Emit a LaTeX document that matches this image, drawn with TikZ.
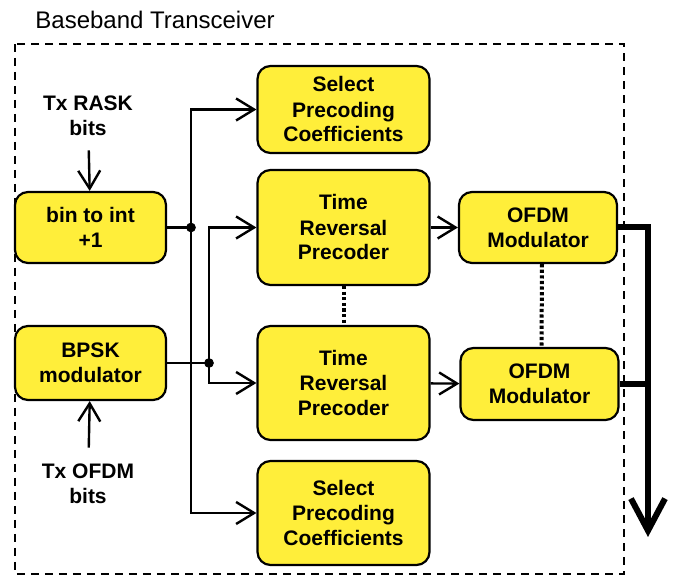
\documentclass[tikz,border=0pt]{standalone}
\usepackage{fontspec}
\setmainfont{Liberation Sans}
\usetikzlibrary{arrows.meta}
\definecolor{boxyellow}{RGB}{255,238,58}
\tikzset{
  blk/.style={draw=black, line width=1.1pt, fill=boxyellow, rounded corners=6.5pt, align=center,
    font=\fontsize{10.5}{12.5}\selectfont\bfseries, inner sep=0pt},
  lbl/.style={align=center, font=\fontsize{10.5}{12.5}\selectfont\bfseries, inner sep=1pt},
  lnk/.style={line width=1.2pt},
  arr/.style={line width=1.2pt, -{Straight Barb[length=9pt,width=11pt,line width=1.2pt]}},
  busarr/.style={line width=3pt, -{Straight Barb[length=16pt,width=17pt,line width=3pt]}},
  dots/.style={line width=2pt, dash pattern=on 1.6pt off 1.2pt},
}
\begin{document}
\begin{tikzpicture}[x=0.5pt,y=-0.5pt]
  \useasboundingbox (0,0) rectangle (676,576);
  \node[anchor=west, inner sep=0pt, font=\fontsize{12}{14}\selectfont] (title) at (35,20) {Baseband Transceiver};
  \draw[line width=1pt, dash pattern=on 4pt off 3pt] (15,44) rectangle (624,574);
  % left column
  \node[lbl] (rask) at (88,116) {Tx RASK\\bits};
  \node[blk, minimum width=75.5pt, minimum height=35.5pt] (bin) at (90.5,227.5) {bin to int\\+1};
  \node[blk, minimum width=75.5pt, minimum height=37pt] (bpsk) at (90.5,363) {BPSK\\modulator};
  \node[lbl] (ofdmbits) at (88,484) {Tx OFDM\\bits};
  % middle column
  \node[blk, minimum width=86pt, minimum height=43.5pt] (sel1) at (343.5,109.5) {Select\\Precoding\\Coefficients};
  \node[blk, minimum width=86pt, minimum height=57.5pt] (trp1) at (343.5,227.5) {Time\\Reversal\\Precoder};
  \node[blk, minimum width=86pt, minimum height=57pt] (trp2) at (343.5,383) {Time\\Reversal\\Precoder};
  \node[blk, minimum width=86pt, minimum height=52pt] (sel2) at (343.5,513) {Select\\Precoding\\Coefficients};
  % right column
  \node[blk, minimum width=79pt, minimum height=35.5pt] (ofdm1) at (538,227.5) {OFDM\\Modulator};
  \node[blk, minimum width=79pt, minimum height=36pt] (ofdm2) at (539.5,384) {OFDM\\Modulator};
  \coordinate (j1) at (191,227.5);
  \coordinate (j2) at (209,363);
  \coordinate (out) at (648,537);
  \draw[arr, shorten <=6pt] (rask) -- (bin);
  \draw[arr, shorten <=7pt] (ofdmbits) -- (bpsk);
  \draw[lnk] (bin) -- (j1);
  \draw[lnk] (bpsk) -- (j2);
  \draw[arr] (j1) |- (sel1);
  \draw[arr] (j1) |- (sel2);
  \draw[arr] (j2) |- (trp1);
  \draw[arr] (j2) |- (trp2);
  \filldraw[black] (j1) circle (2.2pt);
  \filldraw[black] (j2) circle (2.2pt);
  \draw[arr] (trp1) -- (ofdm1);
  \draw[arr] (trp2) -- (ofdm2);
  \draw[dots] (trp1) -- (trp2);
  \draw[dots] ([xshift=2pt]ofdm1.south) -- ([xshift=1pt]ofdm2.north);
  \draw[busarr] (ofdm1) -- (ofdm1 -| out) -- (out);
  \draw[line width=3pt] (ofdm2) -- (ofdm2 -| out);
\end{tikzpicture}
\end{document}
